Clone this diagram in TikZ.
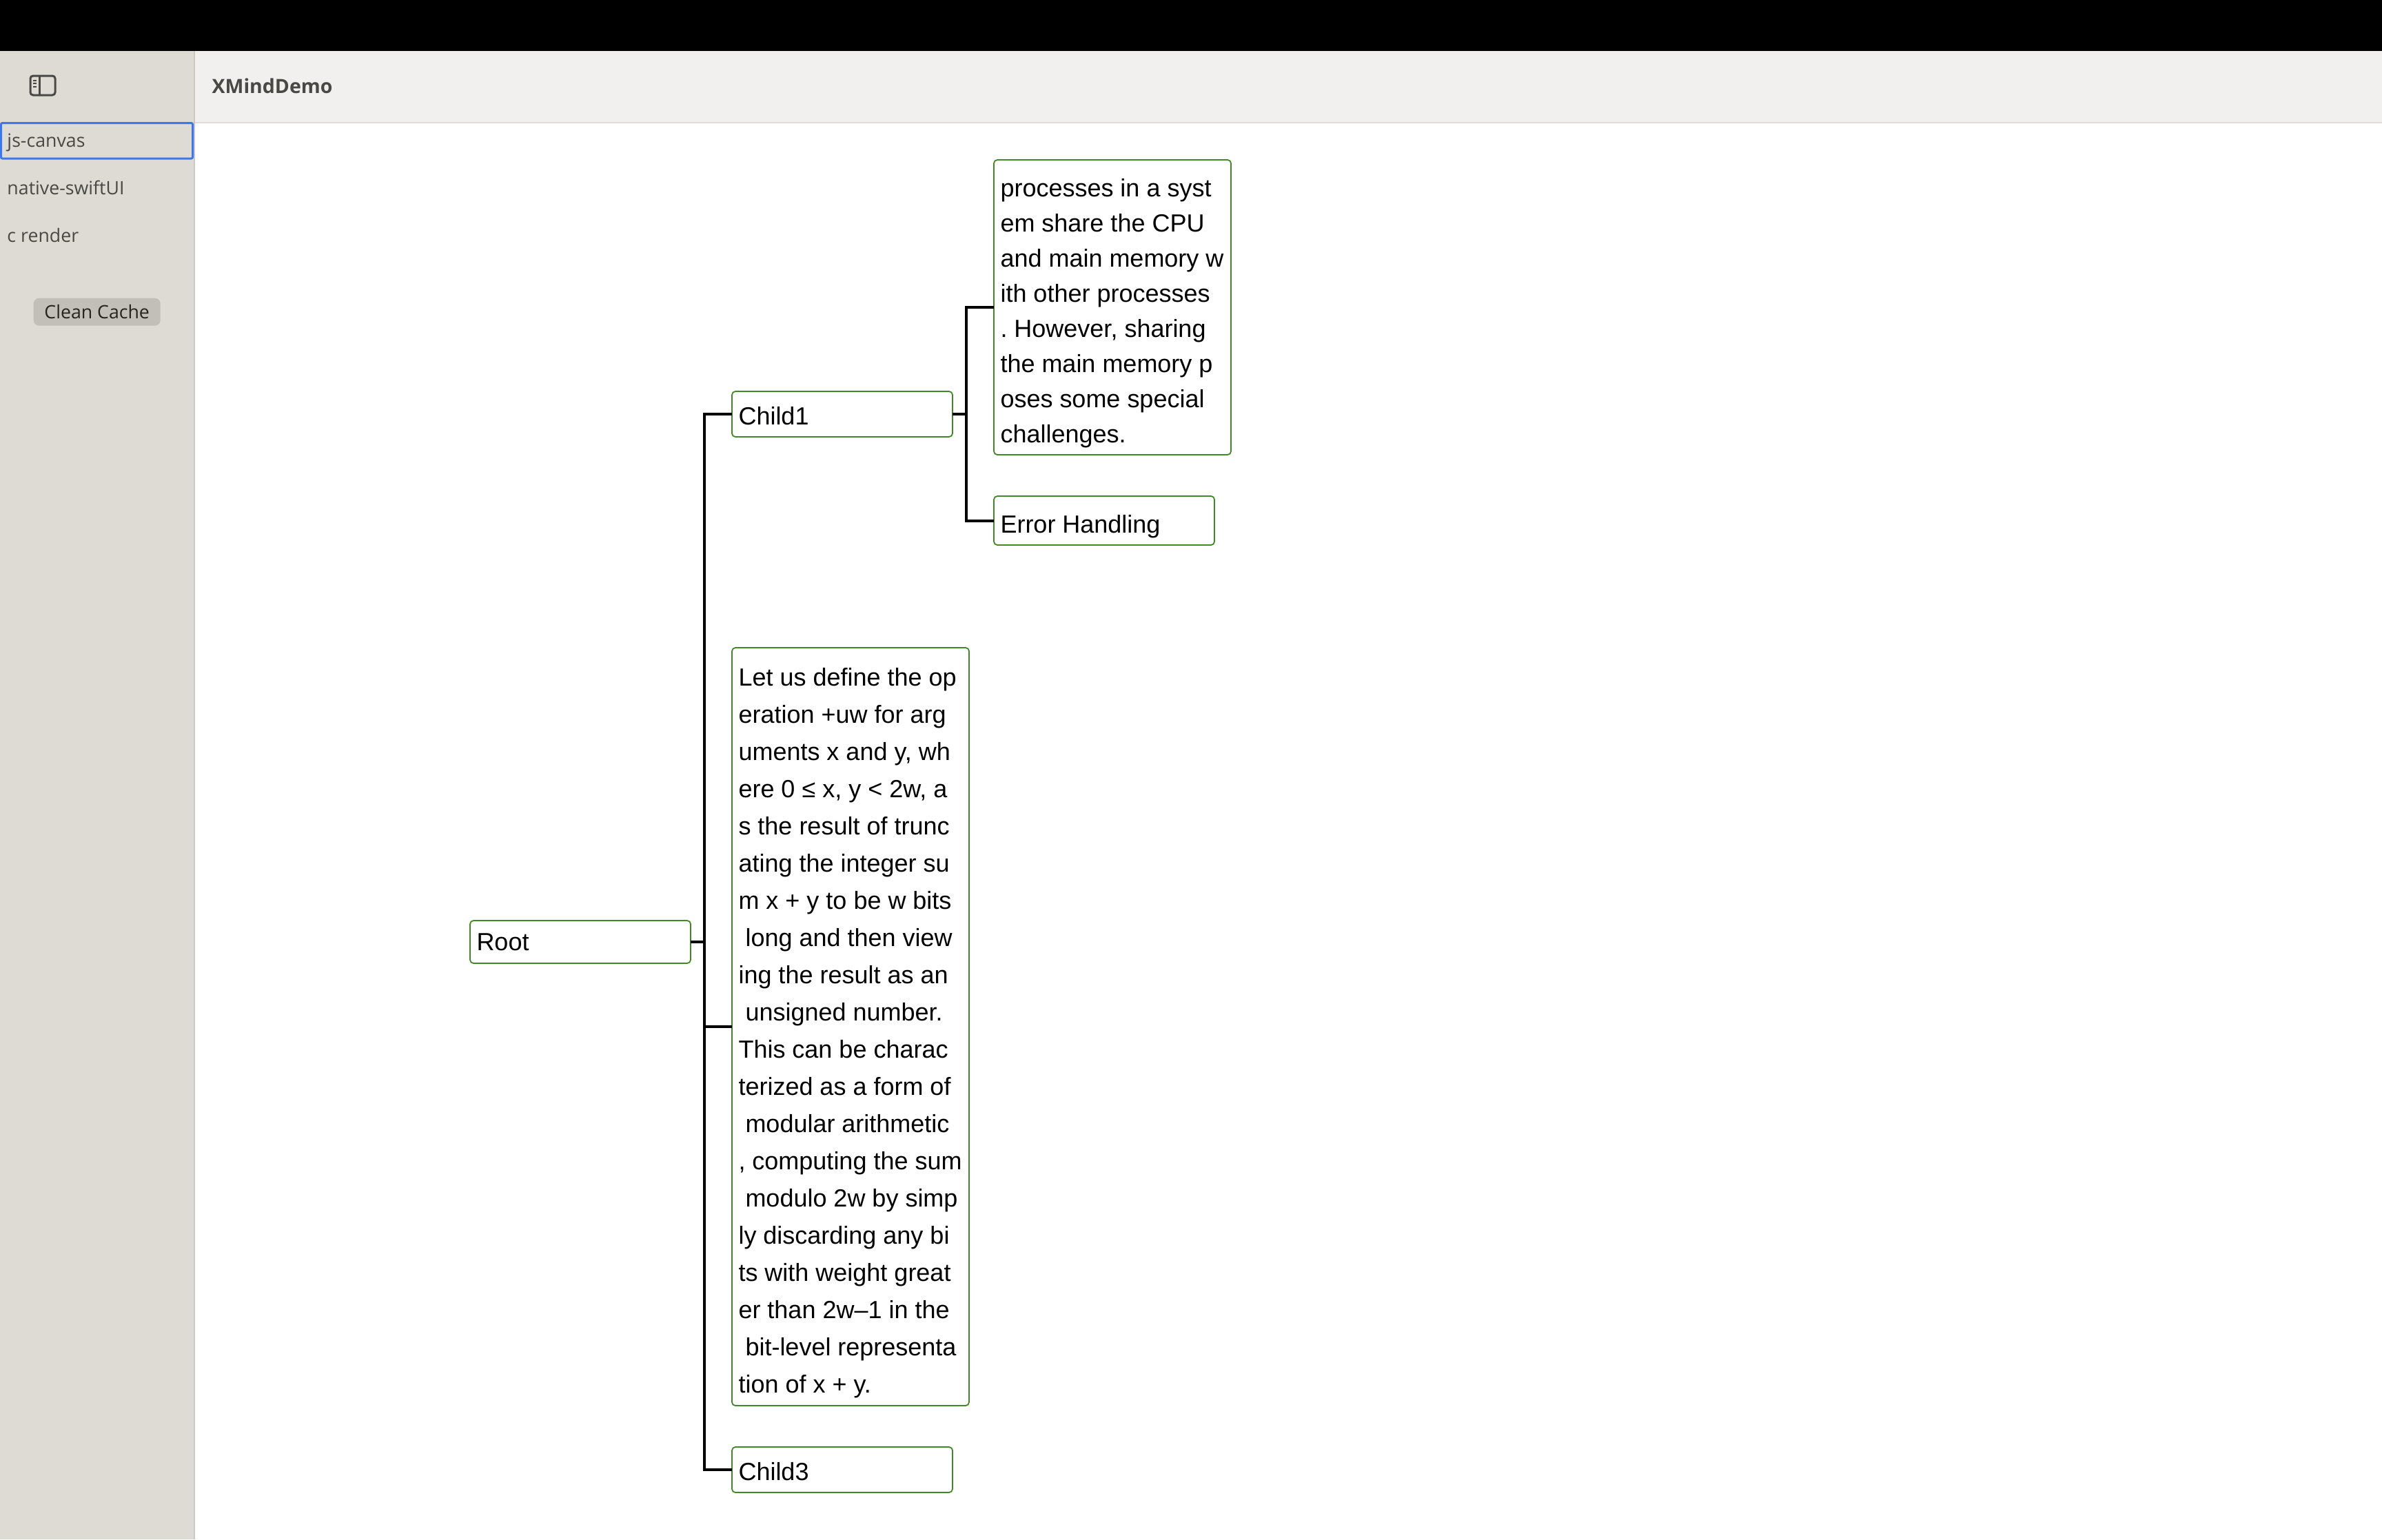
\documentclass[tikz,border=0pt]{standalone}
\usepackage{fontspec}
\setmainfont{Liberation Sans}
\newfontfamily\uifont{Open Sans}
\usetikzlibrary{positioning}

\definecolor{sidebarbg}{HTML}{DEDBD4}
\definecolor{sidebaredge}{HTML}{CBC8C1}
\definecolor{headerbg}{HTML}{F1F0EE}
\definecolor{headeredge}{HTML}{DDDCDA}
\definecolor{uitext}{HTML}{4A4844}
\definecolor{tabblue}{HTML}{3B78F0}
\definecolor{btnbg}{HTML}{C2BFB8}
\definecolor{btntext}{HTML}{26241F}
\definecolor{topicgreen}{HTML}{3F8A26}

\newcommand{\lead}{\hspace*{0.1cm}}
\frenchspacing

\begin{document}
\begin{tikzpicture}[
    topic/.style={rectangle, draw=topicgreen, line width=0.018cm, fill=white, rounded corners=0.05cm, inner xsep=0.095cm, inner ysep=0pt, outer sep=0pt, align=flush left, text=black, text width=#1},
    textdrop/.style={execute at begin node={\rule{0pt}{#1}}},
    smallfont/.style={font=\fontsize{10.24}{14.51}\selectfont},
    bigfont/.style={font=\fontsize{10.24}{15.36}\selectfont},
    tab/.style={rectangle, inner xsep=0.09cm, inner ysep=0pt, outer sep=0pt, minimum height=0.515cm, text height=0.22cm, text depth=0.04cm, text width=2.6cm, align=flush left, text=uitext, font=\uifont\fontsize{7.6}{9}\selectfont},
    link/.style={line width=0.04cm, draw=black}
]
\useasboundingbox (0,0) rectangle (34.56,-22.34);

% Window panels
\fill[white] (0,0) rectangle (34.56,-22.34);
\fill[black] (0,0) rectangle (34.56,-0.74);
\fill[sidebarbg] (0,-0.74) rectangle (2.81,-22.34);
\fill[headerbg] (2.81,-0.74) rectangle (34.56,-1.78);
\draw[headeredge, line width=0.02cm] (2.82,-1.78) -- (34.56,-1.78);
\draw[sidebaredge, line width=0.02cm] (2.815,-0.74) -- (2.815,-22.34);

% Sidebar icon
\draw[uitext, line width=0.03cm, rounded corners=0.04cm] (0.44,-1.10) rectangle (0.80,-1.38);
\draw[uitext, line width=0.03cm] (0.57,-1.10) -- (0.57,-1.38);
\foreach \y in {1.17,1.21,1.26}
    \draw[uitext, line width=0.02cm] (0.48,-\y) -- (0.53,-\y);

% Title
\node[anchor=base west, inner sep=0pt, text=uitext, font=\uifont\bfseries\fontsize{8.1}{10}\selectfont] (title) at (3.07,-1.35) {XMindDemo};

% Sidebar tabs
\node[tab, draw=tabblue, line width=0.03cm, rounded corners=0.02cm, anchor=north west] (jscanvas) at (0.015,-1.785) {js-canvas};
\node[tab, below=0.175cm of jscanvas] (swiftui) {native-swiftUI};
\node[tab, below=0.175cm of swiftui] (crender) {c render};
\node[rectangle, fill=btnbg, rounded corners=0.08cm, minimum width=1.84cm, minimum height=0.40cm, inner sep=0pt, text=btntext, font=\uifont\fontsize{7.6}{9}\selectfont, anchor=north west] (cleancache) at (0.48,-4.32) {Clean Cache};

% Root
\node[topic=3.01cm, smallfont, minimum height=0.62cm, anchor=north west] (root) at (6.82,-13.36) {Root};

% First level
\node[topic=3.01cm, smallfont, textdrop=0.31cm, minimum height=0.66cm, right=0.6cm of root, yshift=7.66cm] (child1) {Child1};
\node[topic=3.25cm, bigfont, textdrop=0.44cm, minimum height=11cm, right=0.6cm of root, yshift=-1.23cm] (child2) {Let us define the op\\
eration +uw for arg\\
uments x and y, wh\\
ere 0 ≤ x, y < 2w, a\\
s the result of trunc\\
ating the integer su\\
m x + y to be w bits\\
\lead long and then view\\
ing the result as an\\
\lead unsigned number.\\
This can be charac\\
terized as a form of\\
\lead modular arithmetic\\
, computing the sum\\
\lead modulo 2w by simp\\
ly discarding any bi\\
ts with weight great\\
er than 2w–1 in the\\
\lead bit-level representa\\
tion of x + y.};
\node[topic=3.01cm, smallfont, textdrop=0.31cm, minimum height=0.66cm, right=0.6cm of root, yshift=-7.66cm] (child3) {Child3};

% Second level
\node[topic=3.25cm, smallfont, textdrop=0.44cm, minimum height=4.28cm, right=0.6cm of child1, yshift=1.55cm] (sharing) {processes in a syst\\
em share the CPU\\
and main memory w\\
ith other processes\\
. However, sharing\\
the main memory p\\
oses some special\\
challenges.};
\node[topic=3.01cm, smallfont, textdrop=0.44cm, minimum height=0.71cm, right=0.6cm of child1, yshift=-1.545cm] (errors) {Error Handling};

% Links
\coordinate[right=0.2cm of root] (rootbus);
\coordinate[right=0.2cm of child1] (childbus);
\draw[link] (root) -- (rootbus);
\draw[link] (rootbus) |- (child1);
\draw[link] (rootbus) |- (child2);
\draw[link] (rootbus) |- (child3);
\draw[link] (child1) -- (childbus);
\draw[link] (childbus) |- (sharing);
\draw[link] (childbus) |- (errors);

\end{tikzpicture}
\end{document}
